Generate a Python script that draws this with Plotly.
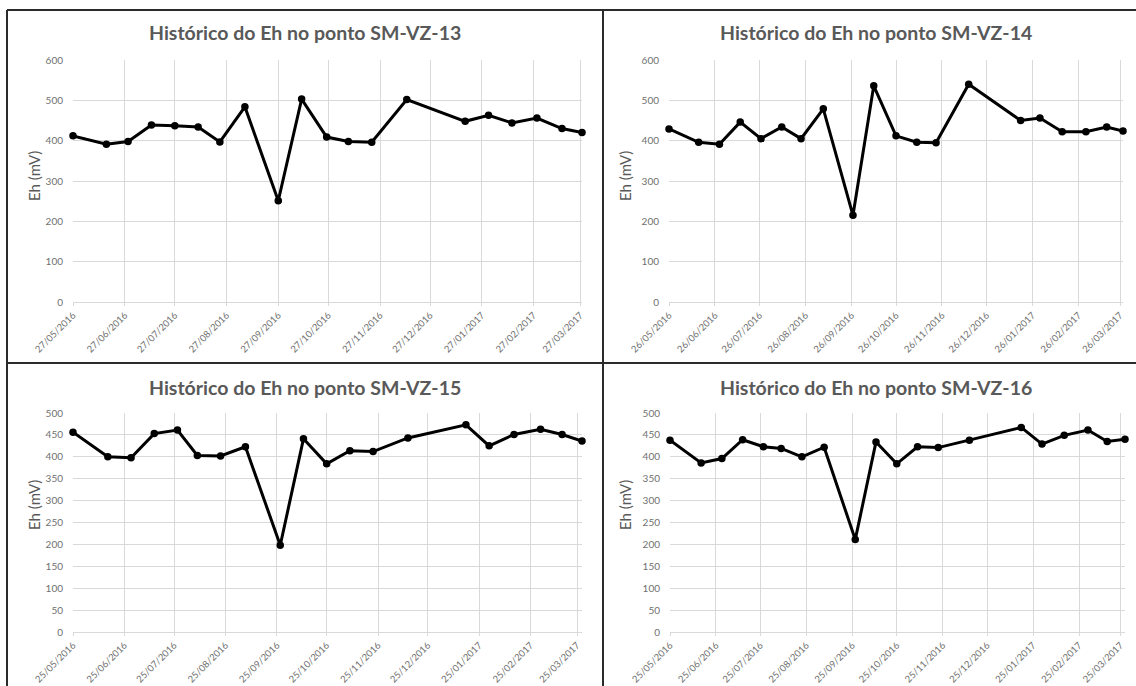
import pandas as pd
import plotly.graph_objects as go

W, H = 1136, 686

# ---- data -----------------------------------------------------------------
titles = [
    "Histórico do Eh no ponto SM-VZ-13",
    "Histórico do Eh no ponto SM-VZ-14",
    "Histórico do Eh no ponto SM-VZ-15",
    "Histórico do Eh no ponto SM-VZ-16",
]

dates_vz13 = ["2016-05-27", "2016-06-16", "2016-06-29", "2016-07-13", "2016-07-27",
              "2016-08-10", "2016-08-23", "2016-09-07", "2016-09-27", "2016-10-11",
              "2016-10-26", "2016-11-08", "2016-11-22", "2016-12-13", "2017-01-17",
              "2017-01-31", "2017-02-14", "2017-03-01", "2017-03-16", "2017-03-28"]
eh_vz13 = [412, 391, 398, 439, 437, 434, 397, 484, 251, 503,
           409, 398, 396, 502, 448, 463, 444, 456, 430, 420]

dates_vz14 = ["2016-05-26", "2016-06-15", "2016-06-29", "2016-07-13", "2016-07-27",
              "2016-08-10", "2016-08-23", "2016-09-07", "2016-09-27", "2016-10-11",
              "2016-10-26", "2016-11-09", "2016-11-22", "2016-12-14", "2017-01-18",
              "2017-01-31", "2017-02-15", "2017-03-03", "2017-03-17", "2017-03-28"]
eh_vz14 = [429, 396, 391, 446, 405, 434, 405, 479, 215, 536,
           412, 396, 395, 540, 450, 456, 422, 422, 434, 424]

dates_vz15 = ["2016-05-25", "2016-06-15", "2016-06-29", "2016-07-13", "2016-07-27",
              "2016-08-08", "2016-08-22", "2016-09-06", "2016-09-27", "2016-10-11",
              "2016-10-25", "2016-11-08", "2016-11-22", "2016-12-13", "2017-01-17",
              "2017-01-31", "2017-02-15", "2017-03-03", "2017-03-16", "2017-03-28"]
eh_vz15 = [456, 400, 398, 453, 461, 403, 402, 423, 198, 441,
           384, 414, 412, 443, 473, 425, 451, 463, 451, 436]

dates_vz16 = dates_vz15
eh_vz16 = [438, 386, 396, 439, 423, 419, 400, 422, 211, 434,
           384, 423, 421, 438, 467, 429, 449, 461, 435, 440]

axis_start = ["2016-05-27", "2016-05-26", "2016-05-25", "2016-05-25"]
axis_end = "2017-03-28"
y_max = [600, 600, 500, 500]
y_step = [100, 100, 50, 50]

series = [(dates_vz13, eh_vz13), (dates_vz14, eh_vz14),
          (dates_vz15, eh_vz15), (dates_vz16, eh_vz16)]

# ---- layout geometry (pixels) ---------------------------------------------
plot_boxes = [(73, 582, 60, 302), (669, 1123, 60, 302),
              (73, 582, 413, 632), (670, 1125, 413, 632)]
title_pos = [(305, 33), (876, 33), (305, 387), (876, 387)]
ylabel_pos = [(34, 176), (625, 176), (34, 505), (625, 505)]

FONT = "Lato"
GREY = "#595959"
TICK_GREY = "#707070"
GRID = "#d9d9d9"

fig = go.Figure()
layout = dict(template="none", width=W, height=H, autosize=False,
              margin=dict(l=0, r=0, t=0, b=0, pad=0),
              paper_bgcolor="white", plot_bgcolor="white",
              showlegend=False, font=dict(family=FONT, color=GREY))
annotations = []

for i, ((d, v), (x0, x1, y0, y1)) in enumerate(zip(series, plot_boxes)):
    n = "" if i == 0 else str(i + 1)
    fig.add_trace(go.Scatter(
        x=pd.to_datetime(d), y=v, mode="lines+markers",
        line=dict(color="black", width=3),
        marker=dict(color="black", size=7.5),
        cliponaxis=False,
        xaxis="x" + n, yaxis="y" + n, hoverinfo="x+y"))

    ticks = pd.date_range(axis_start[i], axis_end, freq=pd.DateOffset(months=1))
    layout["xaxis" + n] = dict(
        domain=[x0 / W, x1 / W], anchor="y" + n, type="date",
        range=[axis_start[i], axis_end], automargin=False,
        tickvals=list(ticks), ticktext=[t.strftime("%d/%m/%Y") for t in ticks],
        tickangle=-45, tickfont=dict(size=9.5, color=TICK_GREY, family=FONT),
        showgrid=True, gridcolor=GRID, gridwidth=1,
        showline=True, linecolor=GRID, linewidth=1,
        ticks="outside", ticklen=3, tickcolor=GRID, zeroline=False)
    layout["yaxis" + n] = dict(
        domain=[1 - y1 / H, 1 - y0 / H], anchor="x" + n, automargin=False,
        range=[0, y_max[i]], dtick=y_step[i], tick0=0,
        tickfont=dict(size=10, color=TICK_GREY, family=FONT),
        showgrid=True, gridcolor=GRID, gridwidth=1,
        showline=False, zeroline=False, ticks="", ticklabelstandoff=9)

    tx, ty = title_pos[i]
    annotations.append(dict(
        text="<b>" + titles[i] + "</b>", x=tx / W, y=1 - ty / H,
        xref="paper", yref="paper", xanchor="center", yanchor="middle",
        showarrow=False, font=dict(size=19.5, color=GREY, family=FONT)))
    lx, ly = ylabel_pos[i]
    annotations.append(dict(
        text="Eh (mV)", x=lx / W, y=1 - ly / H, textangle=-90,
        xref="paper", yref="paper", xanchor="center", yanchor="middle",
        showarrow=False, font=dict(size=15, color=GREY, family=FONT)))

layout["annotations"] = annotations

# frame lines separating the four charts
BORDER = "#2b2b2b"
frame = [(7, 10, W, 10), (7, 10, 7, H), (603, 10, 603, H), (7, 363, W, 363)]
layout["shapes"] = [dict(type="line", xref="paper", yref="paper",
                         x0=a / W, y0=1 - b / H, x1=c / W, y1=1 - d_ / H,
                         line=dict(color=BORDER, width=2))
                    for a, b, c, d_ in frame]

fig.update_layout(**layout)
fig.write_html("out.html")
